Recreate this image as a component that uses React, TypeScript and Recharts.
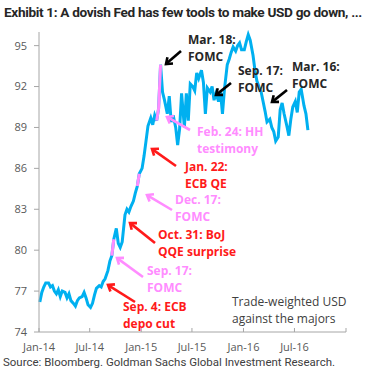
import { LineChart, Line, XAxis, YAxis } from "recharts";

// weekly readings of the trade-weighted USD (4 per month, days 4/11/18/25)
const WEEK_DAYS = [4, 11, 18, 25];

const USD_2014 = [
  76.2, 76.9, 77.3, 77.6, 77.6, 77.3, 77.4, 77.0, 76.8, 77.1, 76.6, 77.0,
  76.9, 76.5, 76.8, 76.3, 76.1, 75.9, 76.3, 76.5, 76.6, 76.9, 76.5, 76.0,
  75.8, 76.1, 76.7, 77.2, 77.4, 77.3, 77.7, 77.9, 78.5, 79.2, 79.6, 80.8,
  81.6, 80.5, 80.2, 80.6, 82.6, 83.0, 82.8, 83.2, 83.6, 84.2, 84.7, 85.6,
];

const USD_2015 = [
  86.0, 86.9, 88.0, 89.1, 89.7, 89.2, 89.9, 89.5, 90.4, 93.6, 91.6, 91.0,
  90.0, 91.3, 89.4, 89.9, 89.0, 87.7, 88.9, 91.5, 89.0, 91.5, 89.5, 92.2,
  92.0, 91.7, 93.0, 92.6, 93.2, 92.3, 90.0, 91.9, 91.6, 92.0, 91.0, 91.5,
  90.9, 91.6, 90.0, 91.8, 93.6, 94.0, 94.5, 94.9, 94.6, 95.0, 95.2, 94.7,
];

const USD_2016 = [
  94.7, 95.3, 95.8, 95.4, 94.3, 93.2, 92.4, 92.0, 91.6, 90.9, 90.2, 89.4,
  89.6, 89.0, 88.7, 88.0, 88.3, 90.3, 90.8, 90.0, 89.1, 88.4, 89.6, 90.5,
  90.9, 90.1, 91.6, 91.8, 90.6, 90.0, 88.8,
];

// event windows drawn in pink
const PINK_WINDOWS = [
  ["2014-09-17", "2014-09-30"],
  ["2014-12-17", "2014-12-31"],
  ["2015-02-24", "2015-03-13"],
];

const X_TICKS = [
  Date.UTC(2014, 0, 1),
  Date.UTC(2014, 6, 1),
  Date.UTC(2015, 0, 1),
  Date.UTC(2015, 6, 1),
  Date.UTC(2016, 0, 1),
  Date.UTC(2016, 6, 1),
  Date.UTC(2017, 0, 1),
];
const X_LABELS = ["Jan-14", "Jul-14", "Jan-15", "Jul-15", "Jan-16", "Jul-16", ""];
const Y_TICKS = [74, 77, 80, 83, 86, 89, 92, 95];

const BLUE = "#00B0F0";
const PINK = "#FF8CFF";
const RED = "#FF1A1A";
const DARK = "#262626";
const AXIS_GREY = "#A6A6A6";
const LABEL_GREY = "#595959";
const FONT = "'Open Sans', 'Noto Sans', sans-serif";

const pinkRanges = PINK_WINDOWS.map(([a, b]) => [Date.parse(a), Date.parse(b)]);

const yearly: Array<[number, number[]]> = [
  [2014, USD_2014],
  [2015, USD_2015],
  [2016, USD_2016],
];

const data = yearly.flatMap(([year, values]) =>
  values.map((usd, i) => {
    const t = Date.UTC(year, Math.floor(i / 4), WEEK_DAYS[i % 4]);
    const inPink = pinkRanges.some(([a, b]) => t >= a && t <= b);
    return { t, usd, pink: inPink ? usd : null };
  })
);

// annotation text blocks (left x, baseline of first line)
const NOTES: Array<{ x: number; y: number; color: string; lines: string[] }> = [
  { x: 188, y: 44, color: DARK, lines: ["Mar. 18:", "FOMC"] },
  { x: 238, y: 75, color: DARK, lines: ["Sep. 17:", "FOMC"] },
  { x: 292, y: 71, color: DARK, lines: ["Mar. 16:", "FOMC"] },
  { x: 197, y: 136, color: PINK, lines: ["Feb. 24: HH", "testimony"] },
  { x: 185, y: 171, color: RED, lines: ["Jan. 22:", "ECB QE"] },
  { x: 175, y: 204, color: PINK, lines: ["Dec. 17:", "FOMC"] },
  { x: 158, y: 239, color: RED, lines: ["Oct. 31: BoJ", "QQE surprise"] },
  { x: 147, y: 275, color: PINK, lines: ["Sep. 17:", "FOMC"] },
  { x: 123, y: 311, color: RED, lines: ["Sep. 4: ECB", "depo cut"] },
];

// arrows: tail -> head
const ARROWS: Array<{ from: [number, number]; to: [number, number]; color: string }> = [
  { from: [181, 51], to: [166, 64], color: "#000" },
  { from: [231, 83], to: [216, 95], color: "#000" },
  { from: [287, 90], to: [272, 102], color: "#000" },
  { from: [190, 130], to: [167, 117], color: PINK },
  { from: [176, 166], to: [152, 149], color: RED },
  { from: [172, 210], to: [147, 195], color: PINK },
  { from: [155, 243], to: [130, 223], color: RED },
  { from: [143, 277], to: [117, 258], color: PINK },
  { from: [135, 302], to: [108, 285], color: RED },
];

const Arrow = ({ from, to, color }: { from: [number, number]; to: [number, number]; color: string }) => {
  const ang = Math.atan2(to[1] - from[1], to[0] - from[0]);
  const len = 7;
  const spread = 0.65;
  const p1 = [to[0] - len * Math.cos(ang - spread), to[1] - len * Math.sin(ang - spread)];
  const p2 = [to[0] - len * Math.cos(ang + spread), to[1] - len * Math.sin(ang + spread)];
  return (
    <g stroke={color} strokeWidth={2.6} fill="none" strokeLinejoin="miter">
      <line x1={from[0]} y1={from[1]} x2={to[0] - Math.cos(ang)} y2={to[1] - Math.sin(ang)} />
      <polyline points={`${p1[0]},${p1[1]} ${to[0]},${to[1]} ${p2[0]},${p2[1]}`} />
    </g>
  );
};

const XTick = ({ x, y, payload }: any) => {
  const idx = X_TICKS.indexOf(payload.value);
  return (
    <g>
      <line x1={x} x2={x} y1={y} y2={y - 4} stroke={AXIS_GREY} />
      <text x={x} y={y + 19} textAnchor="middle" fill={LABEL_GREY} fontSize={11} fontFamily={FONT}>
        {X_LABELS[idx]}
      </text>
    </g>
  );
};

export default function App() {
  return (
    <div
      style={{
        position: "absolute",
        left: 0,
        top: 0,
        width: 375,
        height: 379,
        background: "#fff",
        fontFamily: FONT,
      }}
    >
      <LineChart
        width={375}
        height={379}
        data={data}
        margin={{ top: 32, right: 29, bottom: 27, left: 0 }}
      >
        <XAxis
          dataKey="t"
          type="number"
          domain={[X_TICKS[0], X_TICKS[X_TICKS.length - 1]]}
          ticks={X_TICKS}
          tick={<XTick />}
          tickLine={false}
          tickSize={0}
          tickMargin={0}
          height={20}
          axisLine={{ stroke: AXIS_GREY }}
          interval={0}
        />
        <YAxis
          domain={[74, 96]}
          ticks={Y_TICKS}
          width={39}
          tickSize={5}
          tickMargin={7}
          interval={0}
          axisLine={{ stroke: AXIS_GREY }}
          tickLine={{ stroke: AXIS_GREY }}
          tick={{ fontSize: 11, fill: LABEL_GREY, fontFamily: FONT }}
        />
        <Line
          type="linear"
          dataKey="usd"
          stroke={BLUE}
          strokeWidth={3}
          dot={false}
          isAnimationActive={false}
        />
        <Line
          type="linear"
          dataKey="pink"
          stroke={PINK}
          strokeWidth={3}
          dot={false}
          connectNulls={false}
          isAnimationActive={false}
        />
      </LineChart>
      <svg
        width={375}
        height={379}
        style={{ position: "absolute", left: 0, top: 0, pointerEvents: "none" }}
        fontFamily={FONT}
      >
        <text
          x={4}
          y={17}
          fontSize={12}
          fontWeight="bold"
          fontFamily="Roboto, 'Open Sans', sans-serif"
          letterSpacing={-0.3}
          fill={DARK}
          textLength={358}
          lengthAdjust="spacingAndGlyphs"
        >
          Exhibit 1: A dovish Fed has few tools to make USD go down, ...
        </text>
        {ARROWS.map((a, i) => (
          <Arrow key={i} {...a} />
        ))}
        {NOTES.map((n, i) => (
          <text key={i} x={n.x} fontSize={12} fontWeight="bold" fill={n.color}>
            {n.lines.map((l, j) => (
              <tspan key={j} x={n.x} y={n.y + j * 16.5}>
                {l}
              </tspan>
            ))}
          </text>
        ))}
        <text x={232} fontSize={12} fill="#404040">
          <tspan x={232} y={306}>Trade-weighted USD</tspan>
          <tspan x={232} y={322.5}>against the majors</tspan>
        </text>
        <text
          x={3}
          y={366}
          fontSize={11}
          fill="#404040"
          fontFamily="Roboto, 'Open Sans', sans-serif"
          textLength={332}
          lengthAdjust="spacingAndGlyphs"
        >
          Source: Bloomberg. Goldman Sachs Global Investment Research.
        </text>
      </svg>
    </div>
  );
}
